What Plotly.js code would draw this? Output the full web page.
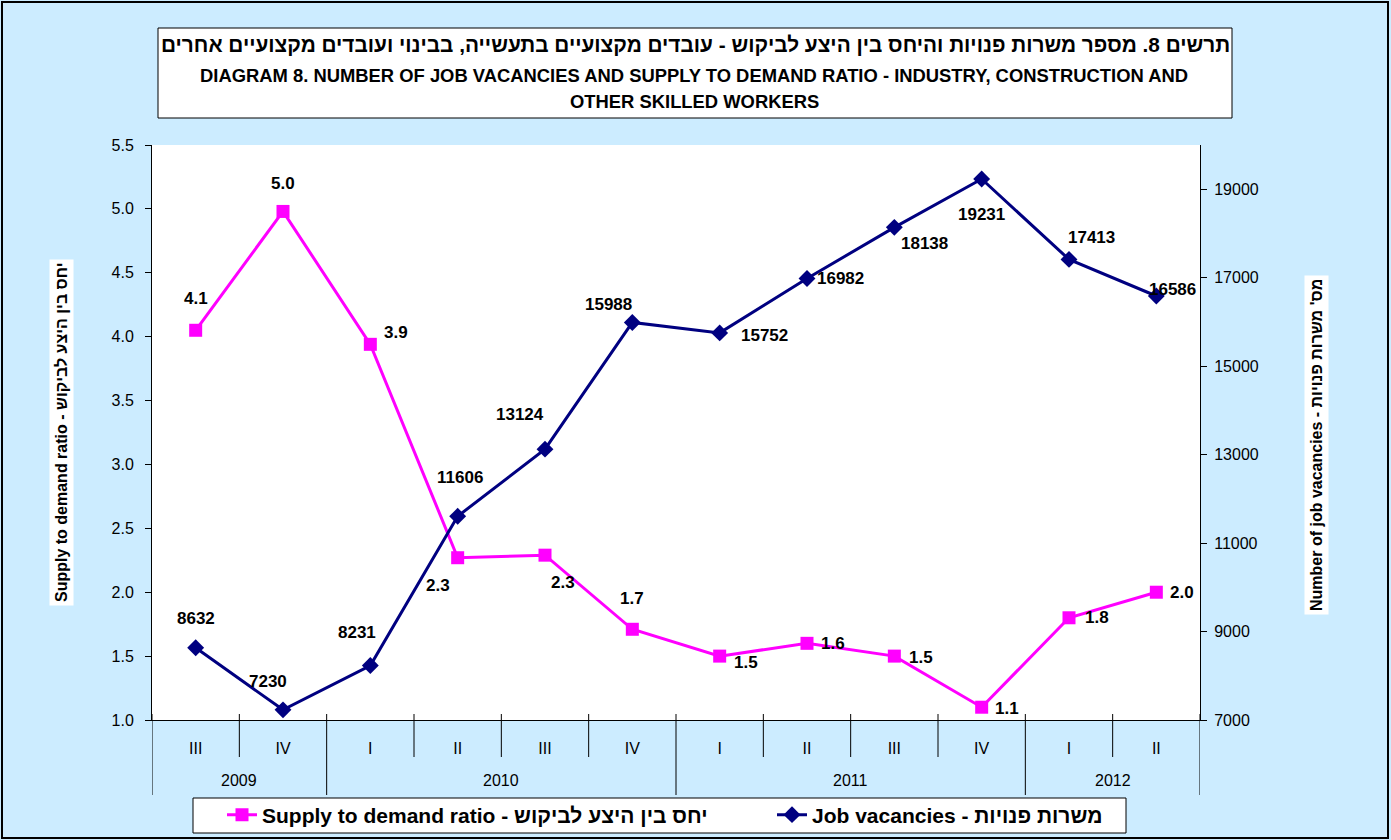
<!DOCTYPE html>
<html><head><meta charset="utf-8">
<script src="https://cdn.plot.ly/plotly-3.0.1.min.js"></script>
<style>html,body{margin:0;padding:0;background:#CCECFF;}#chart{width:1391px;height:840px;}</style>
</head><body><div id="chart"></div>
<script>
// ---- data ----
const years    = ["2009","2009","2010","2010","2010","2010","2011","2011","2011","2011","2012","2012"];
const quarters = ["III","IV","I","II","III","IV","I","II","III","IV","I","II"];
const ratio    = [4.05, 4.98, 3.94, 2.27, 2.29, 1.71, 1.50, 1.60, 1.50, 1.10, 1.80, 2.00];
const ratioLabels = ["4.1","5.0","3.9","2.3","2.3","1.7","1.5","1.6","1.5","1.1","1.8","2.0"];
const vacancies = [8632, 7230, 8231, 11606, 13124, 15988, 15752, 16982, 18138, 19231, 17413, 16586];
const ratioName = "Supply to demand ratio - יחס בין היצע לביקוש";
const vacName = "Job vacancies - משרות פנויות";
const yLeftTitle = "Supply to demand ratio - יחס בין היצע לביקוש";
const yRightTitle = "Number of job vacancies - מס' משרות פנויות";
const titleHe = "\u202Bתרשים 8. מספר משרות פנויות והיחס בין היצע לביקוש - עובדים מקצועיים בתעשייה, בבינוי ועובדים מקצועיים אחרים\u202C";
const titleEn1 = "DIAGRAM 8. NUMBER OF JOB VACANCIES AND SUPPLY TO DEMAND RATIO - INDUSTRY, CONSTRUCTION AND";
const titleEn2 = "OTHER SKILLED WORKERS";

// label offsets (pixels) relative to each point
const ratioDx = [0, 0, 26, -20, 18, 0, 26, 26, 27, 25, 28, 26];
const ratioDy = [-32, -28, -12, 28, 27, -31, 6, 0, 1, 1, 0, 0];
const vacDx = [0, -15, -13, 2, -25, -24, 45, 33, 30, 0, 22, 16];
const vacDy = [-29, -28, -33, -39, -35, -18, 3, 0, 16, 35, -22, -7];

// ---- layout geometry ----
const W = 1391, H = 840, L = 152, R = 191, T = 145, B = 120;
const PW = W - L - R, PH = H - T - B;
const px = x => (x - L) / PW;
const py = y => (H - B - y) / PH;
const FONT = "Liberation Sans, Arial, sans-serif";

const xids = years.map((y, i) => y + "-" + quarters[i] + "-" + i);
const traces = [
  {x: xids, y: ratio, type: "scatter", mode: "lines+markers", name: ratioName, yaxis: "y",
   line: {color: "#FF00FF", width: 3}, marker: {symbol: "square", size: 13, color: "#FF00FF"}, legend: "legend", cliponaxis: false},
  {x: xids, y: vacancies, type: "scatter", mode: "lines+markers", name: vacName, yaxis: "y2",
   line: {color: "#000080", width: 3}, marker: {symbol: "diamond", size: 13, color: "#000080"}, legend: "legend2", cliponaxis: false}
];

const annotations = [];
const LBL = {family: FONT, size: 17, color: "#000", weight: "bold"};
ratio.forEach((v, i) => annotations.push({x: i, y: v, xref: "x", yref: "y", text: ratioLabels[i], showarrow: false,
  xanchor: "center", yanchor: "middle", xshift: ratioDx[i], yshift: -ratioDy[i], font: LBL}));
vacancies.forEach((v, i) => annotations.push({x: i, y: v, xref: "x", yref: "y2", text: String(v), showarrow: false,
  xanchor: "center", yanchor: "middle", xshift: vacDx[i], yshift: -vacDy[i], font: LBL}));

// title lines
const pa = {xref: "paper", yref: "paper", showarrow: false, xanchor: "center", yanchor: "middle"};
annotations.push(Object.assign({}, pa, {x: px(695), y: py(45), text: titleHe,
  font: {family: FONT, size: 20.8, color: "#000", weight: "bold"}}));
annotations.push(Object.assign({}, pa, {x: px(694), y: py(76), text: titleEn1,
  font: {family: FONT, size: 18.4, color: "#000", weight: "bold"}}));
annotations.push(Object.assign({}, pa, {x: px(694), y: py(101), text: titleEn2,
  font: {family: FONT, size: 18.4, color: "#000", weight: "bold"}}));
// axis titles
annotations.push(Object.assign({}, pa, {x: px(61), y: py(433), text: yLeftTitle, textangle: -90,
  font: {family: FONT, size: 16, color: "#000", weight: "bold"}, bgcolor: "#FFFFFF", borderpad: 3}));
annotations.push(Object.assign({}, pa, {x: px(1316), y: py(445), text: yRightTitle, textangle: -90,
  font: {family: FONT, size: 16, color: "#000", weight: "bold"}, bgcolor: "#FFFFFF", borderpad: 3}));

const shapes = [
  {type: "rect", xref: "paper", yref: "paper", x0: px(2), x1: px(1388), y0: py(2), y1: py(838), line: {color: "#000", width: 2}, layer: "below"},
  {type: "rect", xref: "paper", yref: "paper", x0: px(158), x1: px(1232), y0: py(28), y1: py(118), fillcolor: "#FFFFFF", line: {color: "#000", width: 1}, layer: "below"},
  {type: "rect", xref: "paper", yref: "paper", x0: px(193), x1: px(1126), y0: py(798), y1: py(833), fillcolor: "#FFFFFF", line: {color: "#000", width: 1}, layer: "below"}
];
// category boundaries: quarter ticks and year dividers, plus year labels
for (let i = 0; i <= years.length; i++) {
  const isYearEdge = i === 0 || i === years.length || years[i] !== years[i - 1];
  shapes.push({type: "line", xref: "x", yref: "paper", x0: i - 0.5, x1: i - 0.5, y0: py(714), y1: py(isYearEdge ? 795 : 757),
    line: {color: "#000", width: 1}});
}
const groups = [];
years.forEach((y, i) => { if (!groups.length || groups[groups.length - 1].y !== y) groups.push({y: y, s: i, e: i}); else groups[groups.length - 1].e = i; });
groups.forEach(g => annotations.push({xref: "x", yref: "paper", x: (g.s + g.e) / 2, y: py(780), text: g.y, showarrow: false,
  xanchor: "center", yanchor: "middle", font: {family: FONT, size: 16, color: "#000"}}));

const layout = {
  width: W, height: H, margin: {l: L, r: R, t: T, b: B, pad: 0, autoexpand: false},
  paper_bgcolor: "#CCECFF", plot_bgcolor: "#FFFFFF",
  font: {family: FONT, size: 16, color: "#000"},
  showlegend: true,
  xaxis: {type: "category", range: [-0.5, years.length - 0.5], autorange: false, tickvals: xids, ticktext: quarters,
          showline: true, linecolor: "#000", linewidth: 1,
          ticks: "", showgrid: false, zeroline: false, ticklabelstandoff: 14, tickfont: {size: 16, color: "#000"}},
  yaxis: {range: [1, 5.5], dtick: 0.5, tickformat: ".1f", showline: true, linecolor: "#000", linewidth: 1,
          ticks: "outside", ticklen: 6, tickcolor: "#000", showgrid: false, zeroline: false, ticklabelstandoff: 8,
          tickfont: {size: 16, color: "#000"}},
  yaxis2: {range: [7000, 20000], tick0: 7000, dtick: 2000, tickformat: "d", overlaying: "y", side: "right", showline: true,
           linecolor: "#000", linewidth: 1, ticks: "outside", ticklen: 6, tickcolor: "#000", showgrid: false, zeroline: false,
           ticklabelstandoff: 4, tickfont: {size: 16, color: "#000"}},
  yaxis3: {range: [1, 5.5], dtick: 0.5, overlaying: "y", side: "left", ticks: "inside", ticklen: 5, tickcolor: "#000",
           showticklabels: false, showgrid: false, zeroline: false, showline: false},
  yaxis4: {range: [7000, 20000], tick0: 7000, dtick: 2000, overlaying: "y", side: "right", ticks: "inside", ticklen: 5, tickcolor: "#000",
           showticklabels: false, showgrid: false, zeroline: false, showline: false},
  legend: {orientation: "h", x: px(222), y: py(815), xanchor: "left", yanchor: "middle", bgcolor: "rgba(0,0,0,0)",
           font: {family: FONT, size: 21, color: "#000", weight: "bold"}},
  legend2: {orientation: "h", x: px(772), y: py(815), xanchor: "left", yanchor: "middle", bgcolor: "rgba(0,0,0,0)",
           font: {family: FONT, size: 21, color: "#000", weight: "bold"}},
  annotations: annotations, shapes: shapes
};
Plotly.newPlot("chart", traces, layout, {displayModeBar: false, staticPlot: true});
</script></body></html>
